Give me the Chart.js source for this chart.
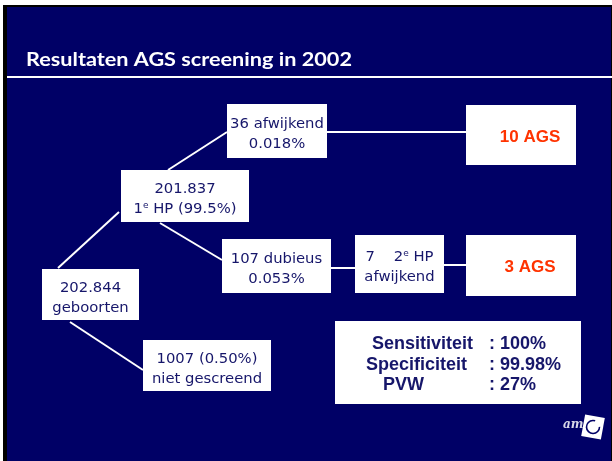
<!DOCTYPE html>
<html>
<head>
<meta charset="utf-8">
<title>Resultaten AGS screening in 2002</title>
<script src="https://cdn.jsdelivr.net/npm/chart.js@4.4.1/dist/chart.umd.min.js"></script>
<style>
  html, body { margin: 0; padding: 0; background: #fff; overflow: hidden; }
  #wrap { width: 612px; height: 461px; }
</style>
</head>
<body>
<div id="wrap"><canvas id="flowChart" width="612" height="461"></canvas></div>
<script>
// Slide text
var slideTitle = 'Resultaten AGS screening in 2002';

// Nodes of the screening tree ('^' marks a superscript letter)
var nodeNames = ['births', 'hp1', 'abnormal', 'doubtful', 'hp2', 'agsTop', 'agsBottom', 'notScreened'];
var nodeLines = [
    ['202.844', 'geboorten'],
    ['201.837', '1^e HP (99.5%)'],
    ['36 afwijkend', '0.018%'],
    ['107 dubieus', '0.053%'],
    ['7    2^e HP', 'afwijkend'],
    ['10 AGS'],
    ['3 AGS'],
    ['1007 (0.50%)', 'niet gescreend']
];

// Connections between nodes
var linkFrom = ['births', 'hp1', 'hp1', 'births', 'abnormal', 'doubtful', 'hp2'];
var linkTo = ['hp1', 'abnormal', 'doubtful', 'notScreened', 'agsTop', 'hp2', 'agsBottom'];

// Summary box
var statLabels = ['Sensitiviteit', 'Specificiteit', 'PVW'];
var statValues = [': 100%', ': 99.98%', ': 27%'];

// ---- layout (slide units, 612 x 461) ----
var boxLayout = {
    births: [42, 269, 139, 320],
    hp1: [121, 170, 249, 222],
    abnormal: [227, 104, 327, 158],
    doubtful: [222, 239, 331, 293],
    hp2: [355, 235, 444, 293],
    agsTop: [466, 105, 576, 165],
    agsBottom: [466, 235, 576, 296],
    notScreened: [143, 340, 271, 391],
    stats: [335, 321, 581, 404]
};
// where each connector leaves / enters a box
var linkAnchors = [
    [58, 268, 119, 212],
    [168, 170, 227, 132],
    [160, 223, 222, 260],
    [70, 322, 143, 370],
    [327, 132, 466, 132],
    [331, 268, 355, 268],
    [444, 265, 466, 265]
];
var statLabelX = [372, 366, 383];
var statValueX = 489;
var statBaselines = [349, 370, 390];

var NAVY = '#000066';
var INK = '#16166a';
var RED = '#ff3300';
var BOX_FONT = '14.8px "DejaVu Sans", Verdana, sans-serif';
var SUP_FONT = '9px "DejaVu Sans", Verdana, sans-serif';

// connectors become line datasets
var linkDatasets = linkFrom.map(function(name, i) {
    var a = linkAnchors[i];
    return {
        label: name + '-' + linkTo[i],
        data: [{ x: a[0], y: a[1] }, { x: a[2], y: a[3] }],
        showLine: true,
        borderColor: '#ffffff',
        borderWidth: 2,
        pointRadius: 0,
        fill: false
    };
});

// draw a line of text with optional ^superscript, centered on cx
function drawRich(ctx, text, cx, baseline) {
    var parts = [];
    var re = /\^(.)/g, last = 0, m;
    while ((m = re.exec(text)) !== null) {
        if (m.index > last) parts.push({ t: text.slice(last, m.index), sup: false });
        parts.push({ t: m[1], sup: true });
        last = re.lastIndex;
    }
    if (last < text.length) parts.push({ t: text.slice(last), sup: false });

    var total = 0;
    parts.forEach(function(p) {
        ctx.font = p.sup ? SUP_FONT : BOX_FONT;
        p.w = ctx.measureText(p.t).width;
        total += p.w;
    });
    var x = cx - total / 2;
    ctx.textAlign = 'left';
    ctx.textBaseline = 'alphabetic';
    parts.forEach(function(p) {
        ctx.font = p.sup ? SUP_FONT : BOX_FONT;
        ctx.fillText(p.t, x, p.sup ? baseline - 5.5 : baseline);
        x += p.w;
    });
}

var slidePlugin = {
    id: 'slide',
    beforeDraw: function(chart) {
        var ctx = chart.ctx;
        var sx = chart.scales.x, sy = chart.scales.y;
        function px(v) { return sx.getPixelForValue(v); }
        function py(v) { return sy.getPixelForValue(v); }

        ctx.save();
        ctx.fillStyle = '#ffffff';
        ctx.fillRect(0, 0, chart.width, chart.height);
        ctx.fillStyle = '#000000';
        ctx.fillRect(px(3), py(5), px(612) - px(3), py(461) - py(5));
        ctx.fillStyle = NAVY;
        ctx.fillRect(px(7), py(7), px(611) - px(7), py(461) - py(7));

        // title, squeezed to the width of the original
        ctx.fillStyle = '#ffffff';
        ctx.font = 'bold 18.5px Lato, "Open Sans", sans-serif';
        ctx.textBaseline = 'alphabetic';
        ctx.textAlign = 'left';
        var tw = ctx.measureText(slideTitle).width;
        var target = px(352) - px(26);
        ctx.translate(px(26), py(66));
        ctx.scale(target / tw, 1);
        ctx.fillText(slideTitle, 0, 0);
        ctx.setTransform(1, 0, 0, 1, 0, 0);

        // rule under the title
        ctx.fillRect(px(7), py(76), px(612) - px(7), 2);
        ctx.restore();
    },
    afterDatasetsDraw: function(chart) {
        var ctx = chart.ctx;
        var sx = chart.scales.x, sy = chart.scales.y;
        function px(v) { return sx.getPixelForValue(v); }
        function py(v) { return sy.getPixelForValue(v); }

        ctx.save();
        nodeNames.forEach(function(name, i) {
            var b = boxLayout[name];
            ctx.fillStyle = '#ffffff';
            ctx.fillRect(px(b[0]), py(b[1]), px(b[2]) - px(b[0]), py(b[3]) - py(b[1]));
            var cx = (px(b[0]) + px(b[2])) / 2;
            var cy = (py(b[1]) + py(b[3])) / 2;
            var lines = nodeLines[i];
            if (name === 'agsTop' || name === 'agsBottom') {
                ctx.fillStyle = RED;
                ctx.font = 'bold 17px "Liberation Sans", Arial, sans-serif';
                ctx.textAlign = 'center';
                ctx.textBaseline = 'alphabetic';
                ctx.fillText(lines[0], px(530), cy + 6.5);
            } else {
                ctx.fillStyle = INK;
                lines.forEach(function(line, j) {
                    drawRich(ctx, line, cx, cy - 3 + j * 20);
                });
            }
        });

        // summary box
        var s = boxLayout.stats;
        ctx.fillStyle = '#ffffff';
        ctx.fillRect(px(s[0]), py(s[1]), px(s[2]) - px(s[0]), py(s[3]) - py(s[1]));
        ctx.fillStyle = INK;
        ctx.font = 'bold 18px "Liberation Sans", Arial, sans-serif';
        ctx.textAlign = 'left';
        ctx.textBaseline = 'alphabetic';
        statLabels.forEach(function(label, i) {
            ctx.fillText(label, px(statLabelX[i]), py(statBaselines[i]));
            ctx.fillText(statValues[i], px(statValueX), py(statBaselines[i]));
        });

        // small logo bottom right
        ctx.fillStyle = '#d8d8e8';
        ctx.font = 'italic bold 12px "DejaVu Serif", serif';
        ctx.fillText('am', px(563), py(428));
        ctx.translate(px(593), py(427));
        ctx.rotate(0.18);
        ctx.fillStyle = '#ffffff';
        ctx.fillRect(-10, -11, 20, 22);
        ctx.strokeStyle = NAVY;
        ctx.lineWidth = 1.6;
        ctx.beginPath();
        ctx.arc(0, 0, 6.5, -0.2, Math.PI * 1.55);
        ctx.stroke();
        ctx.restore();
    }
};

var ctx1 = document.getElementById('flowChart').getContext('2d');
var flowChart = new Chart(ctx1, {
    type: 'scatter',
    data: { datasets: linkDatasets },
    options: {
        responsive: false,
        animation: false,
        devicePixelRatio: 1,
        layout: { padding: 0 },
        scales: {
            x: { type: 'linear', min: 0, max: 612, display: false },
            y: { type: 'linear', min: 0, max: 461, reverse: true, display: false }
        },
        plugins: {
            legend: { display: false },
            tooltip: { enabled: false }
        }
    },
    plugins: [slidePlugin]
});
</script>
</body>
</html>
